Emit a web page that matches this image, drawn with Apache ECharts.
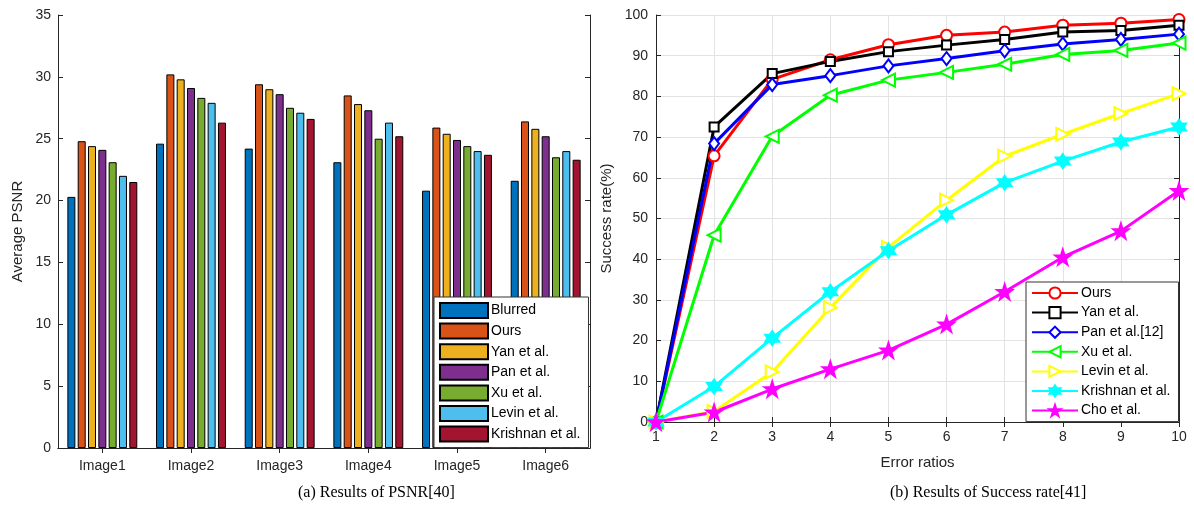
<!DOCTYPE html>
<html>
<head>
<meta charset="utf-8">
<script src="https://cdn.jsdelivr.net/npm/echarts@6/dist/echarts.min.js"></script>
<style>
html,body{margin:0;padding:0;background:#fff;}
#main{width:1194px;height:513px;}
</style>
</head>
<body>
<div id="main"></div>
<script>
// left chart: PSNR bars
var images = ['Image1', 'Image2', 'Image3', 'Image4', 'Image5', 'Image6'];
var barNames = ['Blurred', 'Ours', 'Yan et al.', 'Pan et al.', 'Xu et al.', 'Levin et al.', 'Krishnan et al.'];
var blurred  = [20.3, 24.6, 24.2, 23.1, 20.8, 21.6];
var oursPsnr = [24.8, 30.2, 29.4, 28.5, 25.9, 26.4];
var yanPsnr  = [24.4, 29.8, 29.0, 27.8, 25.4, 25.8];
var panPsnr  = [24.1, 29.1, 28.6, 27.3, 24.9, 25.2];
var xuPsnr   = [23.1, 28.3, 27.5, 25.0, 24.4, 23.5];
var levinPsnr = [22.0, 27.9, 27.1, 26.3, 24.0, 24.0];
var krishPsnr = [21.5, 26.3, 26.6, 25.2, 23.7, 23.3];
var barColors = ['#0072BD', '#D95319', '#EDB120', '#7E2F8E', '#77AC30', '#4DBEEE', '#A2142F'];

// right chart: success rate lines
var ratios = [1, 2, 3, 4, 5, 6, 7, 8, 9, 10];
var lineNames = ['Ours', 'Yan et al.', 'Pan et al.[12]', 'Xu et al.', 'Levin et al.', 'Krishnan et al.', 'Cho et al.'];
var oursRate  = [0, 65.4, 84.2, 89.0, 92.7, 95.0, 95.8, 97.5, 98.0, 98.9];
var yanRate   = [0, 72.5, 85.6, 88.6, 91.0, 92.6, 94.0, 95.8, 96.2, 97.5];
var panRate   = [0, 68.4, 82.9, 85.1, 87.5, 89.3, 91.2, 92.9, 94.0, 95.3];
var xuRate    = [0, 45.9, 70.2, 80.3, 84.0, 85.9, 87.9, 90.3, 91.3, 93.1];
var levinRate = [0, 2.6, 12.3, 28.1, 42.9, 54.5, 65.3, 70.7, 75.8, 80.7];
var krishRate = [0, 8.7, 20.6, 32.0, 42.1, 50.9, 58.8, 64.1, 68.8, 72.5];
var choRate   = [0, 2.4, 8.1, 13.0, 17.6, 24.0, 32.0, 40.5, 46.9, 56.8];
var lineColors = ['#ff0000', '#000000', '#0000ff', '#00ff00', '#ffff00', '#00ffff', '#ff00ff'];

var pentagram = 'path://M50,0 L61.8,35.4 L99,35.4 L69,57.3 L80.4,92.7 L50,70.8 L19.6,92.7 L31,57.3 L1,35.4 L38.2,35.4 Z';
var hexagram = 'path://M50,0 L64.4,25 L93.3,25 L78.9,50 L93.3,75 L64.4,75 L50,100 L35.6,75 L6.7,75 L21.1,50 L6.7,25 L35.6,25 Z';

var font = 'Liberation Sans, Arial, sans-serif';
var txt = '#262626';
var PRE = 'rate:'; // line series keep their own legend entries

var psnrData = [blurred, oursPsnr, yanPsnr, panPsnr, xuPsnr, levinPsnr, krishPsnr];
var rateData = [oursRate, yanRate, panRate, xuRate, levinRate, krishRate, choRate];
var lineSymbols = [
	{s: 'emptyCircle', size: 11, rot: 0},
	{s: 'emptyRect', size: 9, rot: 0},
	{s: 'emptyDiamond', size: [10, 13], rot: 0},
	{s: 'emptyTriangle', size: 13, rot: 90},
	{s: 'emptyTriangle', size: 13, rot: -90},
	{s: hexagram, size: 14, rot: 0},
	{s: pentagram, size: 15, rot: 0}
];

var series = [];
barNames.forEach(function(n, i){
	series.push({
		name: n,
		type: 'bar',
		xAxisIndex: 0,
		yAxisIndex: 0,
		barWidth: 8,
		barGap: '29%',
		data: psnrData[i],
		itemStyle: {color: barColors[i], borderColor: '#000', borderWidth: 1}
	});
});
lineNames.forEach(function(n, i){
	var pts = [];
	for (var k = 0; k < ratios.length; k++) pts.push([ratios[k], rateData[i][k]]);
	series.push({
		name: PRE + n,
		type: 'line',
		xAxisIndex: 2,
		yAxisIndex: 2,
		data: pts,
		symbol: lineSymbols[i].s,
		symbolSize: lineSymbols[i].size,
		symbolRotate: lineSymbols[i].rot,
		showAllSymbol: true,
		clip: false,
		lineStyle: {color: lineColors[i], width: 3},
		itemStyle: {color: lineColors[i], borderColor: lineColors[i], borderWidth: 2}
	});
});

var axisLine = {show: true, lineStyle: {color: txt, width: 1}};

var option = {
	animation: false,
	backgroundColor: '#fff',
	grid: [
		{left: 58, right: 604, top: 15, bottom: 65},
		{left: 656, right: 15, top: 15, bottom: 91}
	],
	legend: [
		{
			data: barNames,
			icon: 'rect',
			orient: 'vertical',
			left: 434,
			top: 297,
			itemWidth: 48,
			itemHeight: 15,
			itemGap: 3.6,
			padding: [5, 8, 5, 5],
			backgroundColor: '#fff',
			borderColor: '#333',
			borderWidth: 1,
			textStyle: {color: '#000', fontSize: 14, fontFamily: font, padding: [0, 0, 0, -2]}
		},
		{
			data: lineNames.map(function(n){ return PRE + n; }),
			formatter: function(name){ return name.slice(PRE.length); },
			orient: 'vertical',
			left: 1026,
			top: 282,
			itemWidth: 46,
			itemHeight: 14,
			itemGap: 5.6,
			padding: [4, 8, 4, 5],
			backgroundColor: '#fff',
			borderColor: '#333',
			borderWidth: 1,
			textStyle: {color: '#000', fontSize: 14, fontFamily: font, padding: [0, 0, 0, -2]}
		}
	],
	xAxis: [
		{
			gridIndex: 0, type: 'category', data: images, position: 'bottom',
			axisLine: axisLine,
			axisTick: {show: true, inside: true, length: 5, alignWithLabel: true, lineStyle: {color: txt}},
			axisLabel: {color: txt, fontSize: 14, fontFamily: font, margin: 11}
		},
		{
			gridIndex: 0, type: 'category', data: images, position: 'top',
			axisLine: axisLine,
			axisTick: {show: true, inside: true, length: 5, alignWithLabel: true, lineStyle: {color: txt}},
			axisLabel: {show: false}
		},
		{
			gridIndex: 1, type: 'value', min: 1, max: 10, interval: 1, position: 'bottom',
			name: 'Error ratios', nameLocation: 'middle', nameGap: 33,
			nameTextStyle: {color: txt, fontSize: 15, fontFamily: font},
			axisLine: axisLine,
			axisTick: {show: true, inside: true, length: 5, lineStyle: {color: txt}},
			axisLabel: {color: txt, fontSize: 14, fontFamily: font, margin: 8},
			splitLine: {show: true, lineStyle: {color: '#e3e3e3'}}
		},
		{
			gridIndex: 1, type: 'value', min: 1, max: 10, interval: 1, position: 'top',
			axisLine: axisLine,
			axisTick: {show: true, inside: true, length: 5, lineStyle: {color: txt}},
			axisLabel: {show: false},
			splitLine: {show: false}
		}
	],
	yAxis: [
		{
			gridIndex: 0, type: 'value', min: 0, max: 35, interval: 5, position: 'left',
			name: 'Average PSNR', nameLocation: 'middle', nameGap: 33,
			nameTextStyle: {color: txt, fontSize: 15, fontFamily: font},
			axisLine: axisLine,
			axisTick: {show: true, inside: true, length: 5, lineStyle: {color: txt}},
			axisLabel: {color: txt, fontSize: 14, fontFamily: font, margin: 7},
			splitLine: {show: false}
		},
		{
			gridIndex: 0, type: 'value', min: 0, max: 35, interval: 5, position: 'right',
			axisLine: axisLine,
			axisTick: {show: true, inside: true, length: 5, lineStyle: {color: txt}},
			axisLabel: {show: false},
			splitLine: {show: false}
		},
		{
			gridIndex: 1, type: 'value', min: 0, max: 100, interval: 10, position: 'left',
			name: 'Success rate(%)', nameLocation: 'middle', nameGap: 42,
			nameTextStyle: {color: txt, fontSize: 15, fontFamily: font},
			axisLine: axisLine,
			axisTick: {show: true, inside: true, length: 5, lineStyle: {color: txt}},
			axisLabel: {color: txt, fontSize: 14, fontFamily: font, margin: 8},
			splitLine: {show: true, lineStyle: {color: '#e3e3e3'}}
		},
		{
			gridIndex: 1, type: 'value', min: 0, max: 100, interval: 10, position: 'right',
			axisLine: axisLine,
			axisTick: {show: true, inside: true, length: 5, lineStyle: {color: txt}},
			axisLabel: {show: false},
			splitLine: {show: false}
		}
	],
	graphic: [
		{type: 'text', left: 298, top: 485, style: {text: '(a) Results of PSNR[40]', fill: '#000', font: '16px "Liberation Serif", "Times New Roman", serif', align: 'center'}},
		{type: 'text', left: 890, top: 485, style: {text: '(b) Results of Success rate[41]', fill: '#000', font: '16px "Liberation Serif", "Times New Roman", serif', align: 'center'}}
	],
	series: series
};

var chart = echarts.init(document.getElementById('main'));
chart.setOption(option);
</script>
</body>
</html>
